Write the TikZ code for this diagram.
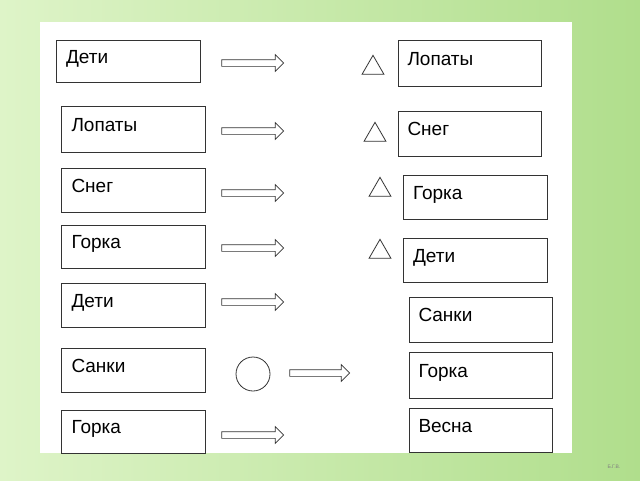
\documentclass[tikz,border=0pt]{standalone}
\usepackage{fontspec}
\setmainfont{Liberation Sans}
\usetikzlibrary{shapes.arrows,shapes.geometric}
\definecolor{leafgreen}{RGB}{176,222,140}
\definecolor{paleleaf}{RGB}{222,244,200}
\tikzset{
  wordbox/.style={draw=black!80,line width=0.9pt,minimum width=144pt,minimum height=44pt,
    inner sep=0pt,text width=124pt,text depth=9pt,align=left,font=\fontsize{19}{19}\selectfont},
  blockarr/.style={single arrow,draw=black!80,line width=0.7pt,fill=white,minimum height=62pt,
    inner sep=3pt,single arrow head extend=5pt,single arrow head indent=0pt}
}
\begin{document}
\begin{tikzpicture}[x=1pt,y=-1pt]
  \useasboundingbox (0,0) rectangle (640,480);
  % background
  \shade[left color=paleleaf,right color=leafgreen] (0,0) rectangle (640,480);
  \fill[white] (40,22) rectangle (572,453);
  % left column
  \node[wordbox,minimum width=144pt,minimum height=42pt] (l1) at (128,61) {Дети};
  \node[wordbox,minimum height=46pt] (l2) at (133.5,129) {Лопаты};
  \node[wordbox] (l3) at (133.5,190) {Снег};
  \node[wordbox,minimum height=43pt] (l4) at (133.5,246.5) {Горка};
  \node[wordbox] (l5) at (133.5,305) {Дети};
  \node[wordbox] (l6) at (133.5,370) {Санки};
  \node[wordbox,minimum height=43pt] (l7) at (133.5,431.5) {Горка};
  % arrows
  \node[blockarr] (a1) at (251,63) {};
  \node[blockarr] (a2) at (251,131) {};
  \node[blockarr] (a3) at (251,193) {};
  \node[blockarr] (a4) at (251,248) {};
  \node[blockarr] (a5) at (251,302) {};
  \node[draw=black!80,line width=0.8pt,circle,minimum size=34pt,inner sep=0pt] (c6) at (253,374) {};
  \node[blockarr,minimum height=60pt] (a6) at (318,373) {};
  \node[blockarr] (a7) at (251,435) {};
  % triangles
  \foreach \n/\x/\y in {1/373/68,2/375/135,3/380/190,4/380/252}
    \node[draw=black!80,line width=0.8pt,isosceles triangle,isosceles triangle apex angle=60,
      shape border rotate=90,minimum height=19pt,inner sep=0pt] (t\n) at (\x,\y) {};
  % right column
  \node[wordbox,minimum width=143pt,minimum height=46pt] (r1) at (469.5,63) {Лопаты};
  \node[wordbox,minimum width=143pt,minimum height=45pt] (r2) at (469.5,133.5) {Снег};
  \node[wordbox] (r3) at (475,197) {Горка};
  \node[wordbox] (r4) at (475,260) {Дети};
  \node[wordbox,minimum width=143pt,minimum height=45pt] (r5) at (480.5,319.5) {Санки};
  \node[wordbox,minimum width=143pt,minimum height=46pt] (r6) at (480.5,375) {Горка};
  \node[wordbox,minimum width=143pt] (r7) at (480.5,430) {Весна};
  \node[font=\fontsize{5}{5}\selectfont,text=black!50] (sig) at (614,467) {Б.Г.В.};
\end{tikzpicture}
\end{document}
